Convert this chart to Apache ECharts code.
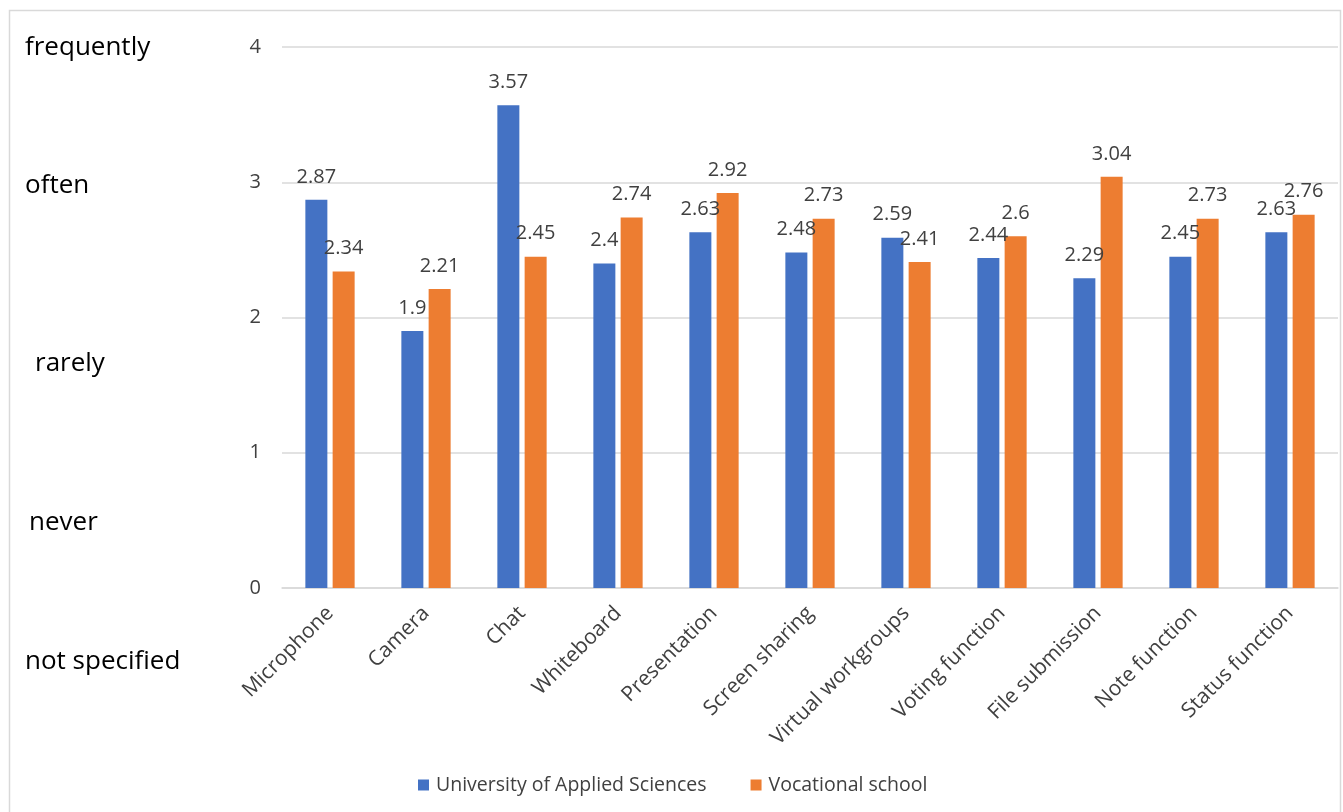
<!DOCTYPE html>
<html>
<head>
<meta charset="utf-8">
<script src="https://cdn.jsdelivr.net/npm/echarts@6/dist/echarts.min.js"></script>
<style>
html,body{margin:0;padding:0;background:#fff;}
#chart{width:1343px;height:812px;}
</style>
</head>
<body>
<div id="chart"></div>
<script>
const categories = ['Microphone','Camera','Chat','Whiteboard','Presentation','Screen sharing','Virtual workgroups','Voting function','File submission','Note function','Status function'];
const seriesNames = ['University of Applied Sciences','Vocational school'];
const universityValues = [2.87, 1.9, 3.57, 2.4, 2.63, 2.48, 2.59, 2.44, 2.29, 2.45, 2.63];
const vocationalValues = [2.34, 2.21, 2.45, 2.74, 2.92, 2.73, 2.41, 2.6, 3.04, 2.73, 2.76];
const yTicks = [0, 1, 2, 3, 4];
const scaleLabels = ['frequently', 'often', 'rarely', 'never', 'not specified'];

const FONT = '"Open Sans", sans-serif';
const labelPos = [[25, 48], [25, 186], [35, 364], [29, 523], [25, 662]];

const chart = echarts.init(document.getElementById('chart'), null, {renderer: 'canvas'});
chart.setOption({
  animation: false,
  backgroundColor: '#fff',
  textStyle: {fontFamily: FONT},
  grid: {left: 282, right: 5, top: 47, bottom: 224, containLabel: false},
  legend: {
    top: 770, left: 413, itemGap: 44,
    itemWidth: 11, itemHeight: 11, icon: 'rect',
    textStyle: {fontSize: 19.5, color: '#404040', fontFamily: FONT, padding: [0, 0, 0, 2]},
    data: seriesNames
  },
  xAxis: {
    type: 'category', data: categories,
    axisLine: {lineStyle: {color: '#D9D9D9', width: 1.5}},
    axisTick: {show: false},
    axisLabel: {rotate: 45, fontSize: 21, color: '#404040', margin: 22, interval: 0, fontFamily: FONT}
  },
  yAxis: {
    type: 'value', min: yTicks[0], max: yTicks[yTicks.length - 1], interval: 1,
    axisLine: {show: false}, axisTick: {show: false},
    axisLabel: {fontSize: 20, color: '#404040', margin: 21, fontFamily: FONT},
    splitLine: {lineStyle: {color: '#D9D9D9', width: 1.5}}
  },
  graphic: [
    {type: 'rect', left: 7, top: 8, shape: {width: 1331, height: 820}, style: {fill: 'none', stroke: '#D9D9D9', lineWidth: 1.5}, silent: true, z: -1}
  ].concat(scaleLabels.map((t, i) => ({
    type: 'text', x: labelPos[i][0], y: labelPos[i][1],
    style: {text: t, fontSize: 26, fill: '#000', fontFamily: FONT, verticalAlign: 'middle', align: 'left'}
  }))),
  series: [
    {
      name: seriesNames[0], type: 'bar', data: universityValues,
      barWidth: 22, barGap: '24%',
      itemStyle: {color: '#4472C4'},
      label: {show: true, position: 'top', distance: 13, fontSize: 20, color: '#404040', fontFamily: FONT}
    },
    {
      name: seriesNames[1], type: 'bar', data: vocationalValues,
      barWidth: 22, barGap: '24%',
      itemStyle: {color: '#ED7D31'},
      label: {show: true, position: 'top', distance: 13, fontSize: 20, color: '#404040', fontFamily: FONT}
    }
  ]
});
</script>
</body>
</html>
